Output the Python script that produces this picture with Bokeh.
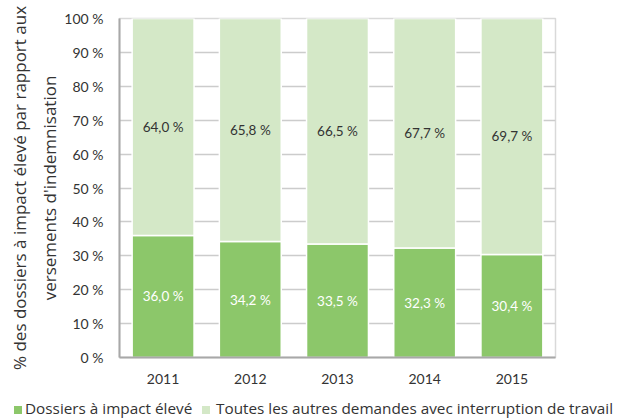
from bokeh.plotting import figure
from bokeh.layouts import column
from bokeh.core.properties import value
from bokeh.models import (ColumnDataSource, FactorRange, Range1d, FixedTicker,
                          PrintfTickFormatter, LabelSet, Div)
from bokeh.embed import file_html
from bokeh.resources import INLINE

years = ["2011", "2012", "2013", "2014", "2015"]
high_impact = [36.0, 34.2, 33.5, 32.3, 30.4]
others = [64.0, 65.8, 66.5, 67.7, 69.7]
high_labels = ["36,0 %", "34,2 %", "33,5 %", "32,3 %", "30,4 %"]
other_labels = ["64,0 %", "65,8 %", "66,5 %", "67,7 %", "69,7 %"]
series_names = ["Dossiers à impact élevé", "Toutes les autres demandes avec interruption de travail"]
y_title = "% des dossiers à impact élevé par rapport aux\nversements d'indemnisation"
colors = ["#8cc76a", "#d4e8c7"]
FONT = "Lato"
FONT2 = "Open Sans"

src = ColumnDataSource(dict(
    year=years, high=high_impact, other=others,
    hy=[v / 2 for v in high_impact],
    oy=[h + o / 2 for h, o in zip(high_impact, others)],
    hl=high_labels, ol=other_labels,
))

p = figure(x_range=FactorRange(*years), y_range=Range1d(0, 100),
           width=623, height=395, output_backend="svg", toolbar_location=None,
           min_border_left=119, min_border_right=68, min_border_top=18,
           min_border_bottom=38)

r = p.vbar_stack(["high", "other"], x="year", width=0.71, source=src,
                 color=colors, line_color="white", line_width=1.5)

p.add_layout(LabelSet(x="year", y="hy", text="hl", source=src, text_align="center",
                      text_baseline="middle", text_color="white", text_font=value(FONT),
                      text_font_size="13.5px"))
p.add_layout(LabelSet(x="year", y="oy", text="ol", source=src, text_align="center",
                      text_baseline="middle", text_color="#333333", text_font=value(FONT),
                      text_font_size="13.5px"))

p.yaxis.ticker = FixedTicker(ticks=list(range(0, 101, 10)))
p.yaxis.formatter = PrintfTickFormatter(format="%d %%")
for ax in (p.xaxis, p.yaxis):
    ax.major_tick_line_color = None
    ax.minor_tick_line_color = None
    ax.axis_line_color = "#a8a8a8"
    ax.axis_line_width = 2
    ax.major_label_text_font = FONT
    ax.major_label_text_font_size = "14px"
    ax.major_label_text_color = "#333333"
p.yaxis.major_label_standoff = 10
p.xaxis.major_label_standoff = 10
p.yaxis.axis_label = y_title
p.yaxis.axis_label_text_font = FONT2
p.yaxis.axis_label_text_font_style = "normal"
p.yaxis.axis_label_text_font_size = "17px"
p.yaxis.axis_label_text_line_height = 1.3
p.yaxis.axis_label_text_color = "#333333"
p.yaxis.axis_label_standoff = 0
p.yaxis.axis_label_text_align = "center"
p.xgrid.grid_line_color = None
p.ygrid.grid_line_color = "#cccccc"
p.ygrid.grid_line_width = 1.5
p.outline_line_color = "#d9d9d9"
p.outline_line_width = 1.5
p.x_range.range_padding = 0.0

# legend strip below the chart
sq = "position:absolute;top:11px;width:8px;height:8px;"
tx = "position:absolute;top:3px;line-height:20px;white-space:nowrap;"
legend_html = (
    f'<div style="position:relative;width:623px;height:24px;font-family:\'{FONT2}\';'
    f'font-size:15.3px;color:#333333;">'
    f'<span style="{sq}left:14px;background:{colors[0]};"></span>'
    f'<span style="{tx}left:25px;">{series_names[0]}</span>'
    f'<span style="{sq}left:202px;background:{colors[1]};"></span>'
    f'<span style="{tx}left:216px;">{series_names[1]}</span>'
    f'</div>'
)
legend_div = Div(text=legend_html, width=623, height=24, margin=(0, 0, 0, 0))

layout = column(p, legend_div, spacing=0)
open("out.html", "w").write(file_html(layout, INLINE))
